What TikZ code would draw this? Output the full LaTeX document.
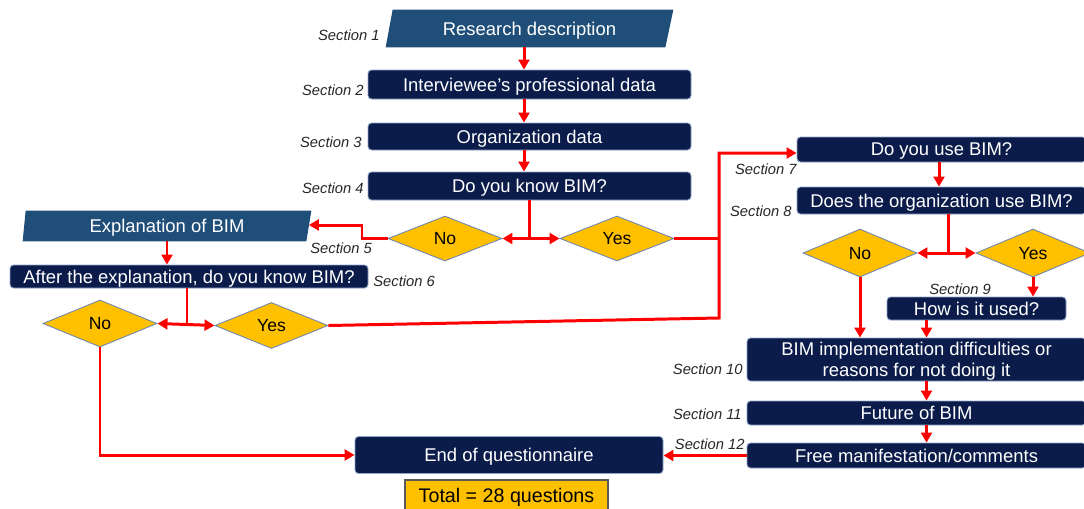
\documentclass[tikz,border=0pt]{standalone}
\usepackage{fontspec}
\setmainfont{Liberation Sans}
\usetikzlibrary{arrows.meta,shapes.geometric,backgrounds,calc}

\definecolor{navy}{HTML}{0B1C4B}
\definecolor{steel}{HTML}{1F4E79}
\definecolor{gold}{HTML}{FFC000}
\definecolor{rimblue}{HTML}{8FA6C8}
\definecolor{diamondrim}{HTML}{6F86AE}
\definecolor{labelgray}{HTML}{262626}
\definecolor{flowred}{HTML}{FF0000}
\definecolor{totalrim}{HTML}{595959}

\newcommand{\pxlen}{0.02cm}

\begin{document}
\begin{tikzpicture}[x=0.02cm,y=-0.02cm,
  qbox/.style={rectangle, rounded corners=2pt, fill=navy, draw=rimblue,
    line width=0.5pt, text=white, inner sep=0pt, align=center, text depth=0pt,
    font=\fontsize{10.5}{12}\selectfont},
  slantbox/.style={rectangle, inner sep=0pt, text=white, text depth=0pt,
    font=\fontsize{10.5}{12}\selectfont},
  choice/.style={diamond, fill=gold, draw=diamondrim, line width=0.5pt,
    inner sep=0pt, text=black, text depth=0pt, font=\fontsize{10}{12}\selectfont},
  sec/.style={inner sep=0pt, text=labelgray,
    font=\fontsize{8.4}{10}\selectfont\itshape},
  flowline/.style={draw=flowred, line width=1.7pt},
  flow/.style={flowline, -{Triangle[length=5.7pt,width=6.2pt]}}
]
\useasboundingbox (0,0) rectangle (1084,508);
\clip (0,0) rectangle (1084,508);

% ---- left column: introduction ----
\node[slantbox, minimum width=287*\pxlen, minimum height=37*\pxlen] (p1) at (529.5,28.5) {Research description};
\node[qbox, minimum width=323*\pxlen, minimum height=29*\pxlen] (b2) at (529.5,84.5) {Interviewee’s professional data};
\node[qbox, minimum width=323*\pxlen, minimum height=27*\pxlen] (b3) at (529.5,136.5) {Organization data};
\node[qbox, minimum width=323*\pxlen, minimum height=28*\pxlen] (b4) at (529.5,186) {Do you know BIM?};

\node[choice, minimum width=114*\pxlen, minimum height=45*\pxlen] (d1) at (445,238.5) {No};
\node[choice, minimum width=114*\pxlen, minimum height=45*\pxlen] (d2) at (617,238.5) {Yes};

\node[slantbox, minimum width=288*\pxlen, minimum height=30*\pxlen] (p5) at (167,226) {Explanation of BIM};
\node[qbox, minimum width=358*\pxlen, minimum height=23*\pxlen] (b6) at (189,276.5) {After the explanation, do you know BIM?};

\node[choice, minimum width=114*\pxlen, minimum height=47*\pxlen] (d3) at (100,323.5) {No};
\node[choice, minimum width=113*\pxlen, minimum height=46*\pxlen] (d4) at (271.5,325.5) {Yes};

% ---- right column: BIM users ----
\node[qbox, minimum width=289*\pxlen, minimum height=25*\pxlen] (b7) at (941.5,149.5) {Do you use BIM?};
\node[qbox, minimum width=289*\pxlen, minimum height=27*\pxlen] (b8) at (941.5,200.5) {Does the organization use BIM?};

\node[choice, minimum width=114*\pxlen, minimum height=48*\pxlen] (d5) at (860,253) {No};
\node[choice, minimum width=114*\pxlen, minimum height=48*\pxlen] (d6) at (1033,253) {Yes};

\node[qbox, minimum width=179*\pxlen, minimum height=23*\pxlen] (b9) at (976.5,308.5) {How is it used?};
\node[qbox, minimum width=339*\pxlen, minimum height=43*\pxlen] (b10) at (916.5,359.5) {BIM implementation difficulties or\\reasons for not doing it};
\node[qbox, minimum width=339*\pxlen, minimum height=24*\pxlen] (b11) at (916.5,413) {Future of BIM};
\node[qbox, minimum width=339*\pxlen, minimum height=25*\pxlen] (b12) at (916.5,455.5) {Free manifestation/comments};

% ---- end ----
\node[qbox, minimum width=308*\pxlen, minimum height=37*\pxlen] (end) at (509,455) {End of questionnaire};
\node[rectangle, fill=gold, draw=totalrim, line width=0.6pt, inner sep=0pt,
  minimum width=203*\pxlen, minimum height=31*\pxlen, text depth=0pt,
  font=\fontsize{11.2}{13}\selectfont] (total) at (506.5,495.5) {Total = 28 questions};

% parallelogram bodies behind their labels
\begin{scope}[on background layer]
  \fill[steel] ($(p1.north west)+(7,0)$) -- (p1.north east)
    -- ($(p1.south east)+(-8,0)$) -- (p1.south west) -- cycle;
  \fill[steel] ($(p5.north west)+(3,0)$) -- (p5.north east)
    -- ($(p5.south east)+(-5,0)$) -- (p5.south west) -- cycle;
\end{scope}

% ---- section labels ----
\node[sec, anchor=east] (s1) at (380,35) {Section 1};
\node[sec, anchor=east] (s2) at (364,90) {Section 2};
\node[sec, anchor=east] (s3) at (362,142) {Section 3};
\node[sec, anchor=east] (s4) at (364,188) {Section 4};
\node[sec, anchor=west] (s5) at (310,248) {Section 5};
\node[sec, anchor=west] (s6) at (373,281) {Section 6};
\node[sec, anchor=east] (s7) at (797,169) {Section 7};
\node[sec, anchor=east] (s8) at (792,211) {Section 8};
\node[sec, anchor=west] (s9) at (929,289) {Section 9};
\node[sec, anchor=east] (s10) at (743,369) {Section 10};
\node[sec, anchor=east] (s11) at (742,414) {Section 11};
\node[sec, anchor=east] (s12) at (745,444) {Section 12};

% ---- junctions and bends ----
\coordinate (j1) at (529.5,238.5);
\coordinate (j2) at (187,324.5);
\coordinate (j3) at (948,253);
\coordinate (k5) at (362,225);
\coordinate (k1) at (719,318);
\coordinate (m) at (926.5,0);

% ---- connectors ----
\draw[flow] ($(p1.south)+(-5.5,0)$) -- ($(b2.north)+(-5.5,0)$);
\draw[flow] ($(b2.south)+(-5.5,0)$) -- ($(b3.north)+(-5.5,0)$);
\draw[flow] ($(b3.south)+(-5.5,0)$) -- ($(b4.north)+(-5.5,0)$);

\draw[flowline] (b4.south) -- (j1);
\draw[flow] (j1) -- (d1.east);
\draw[flow] (j1) -- (d2.west);

\draw[flow] (d1.west) -| (k5) -- ($(p5.east)+(-2.5,-1)$);
\draw[flow] (p5.south) -- (p5.south |- b6.north);

\draw[flowline] (b6.south -| j2) -- (j2);
\draw[flow] (j2) -- (d3.east);
\draw[flow] (j2) -- (d4.west);

\draw[flow] (d4.east) -- (k1) |- ($(b7.west)+(0,3.5)$);
\draw[flowline] (d2.east) -- (d2.east -| k1);

\draw[flow] ($(b7.south)+(-2.5,0)$) -- ($(b8.north)+(-2.5,0)$);
\draw[flowline] (b8.south -| j3) -- (j3);
\draw[flow] (j3) -- (d5.east);
\draw[flow] (j3) -- (d6.west);

\draw[flow] (d6.south) -- (d6.south |- b9.north);
\draw[flow] (d5.south) -- (d5.south |- b10.north);
\draw[flow] (b9.south -| m) -- (b10.north -| m);
\draw[flow] (b10.south -| m) -- (b11.north -| m);
\draw[flow] (b11.south -| m) -- (b12.north -| m);

\draw[flow] (b12.west) -- (b12.west -| end.east);
\draw[flow] (d3.south) |- (end.west);
\end{tikzpicture}
\end{document}
